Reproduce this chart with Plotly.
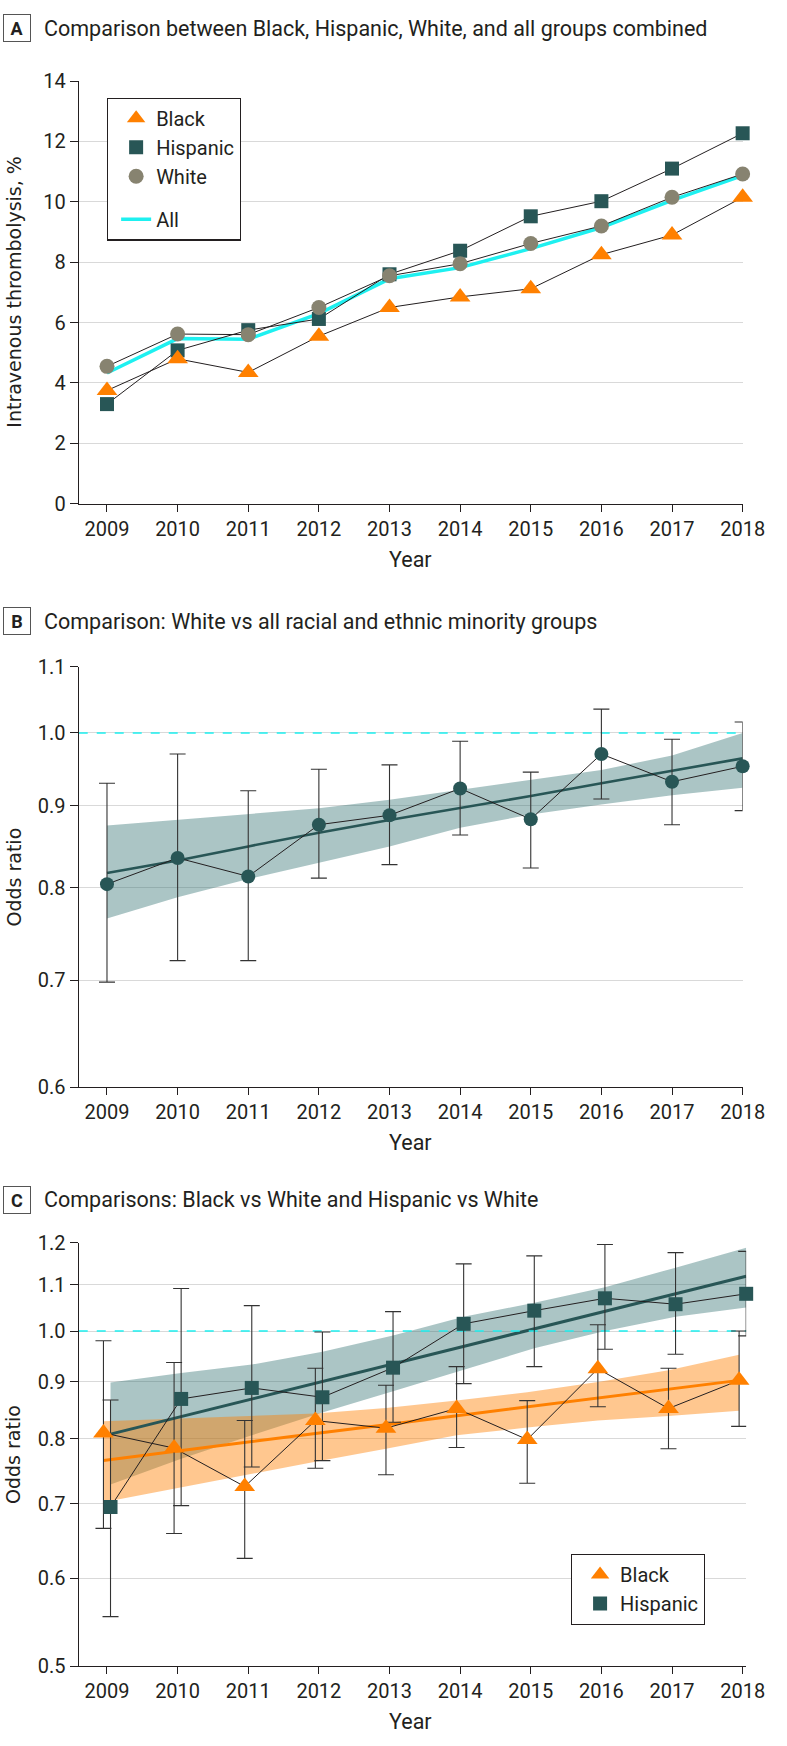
import math
import plotly.graph_objects as go

# ---------------- data ----------------
YEARS = [2009, 2010, 2011, 2012, 2013, 2014, 2015, 2016, 2017, 2018]

# Panel A: intravenous thrombolysis, %
A_BLACK = [3.75, 4.80, 4.35, 5.55, 6.50, 6.85, 7.12, 8.25, 8.90, 10.15]
A_HISPANIC = [3.30, 5.08, 5.75, 6.12, 7.60, 8.38, 9.52, 10.02, 11.10, 12.27]
A_WHITE = [4.55, 5.62, 5.60, 6.50, 7.55, 7.95, 8.62, 9.20, 10.15, 10.92]
A_ALL = [4.33, 5.47, 5.45, 6.30, 7.45, 7.82, 8.45, 9.15, 10.05, 10.87]

# Panel B: odds ratio, White vs all minority groups
B_OR = [0.804, 0.835, 0.813, 0.876, 0.888, 0.923, 0.883, 0.970, 0.932, 0.953]
B_LO = [0.698, 0.720, 0.720, 0.811, 0.827, 0.863, 0.823, 0.909, 0.876, 0.894]
B_HI = [0.930, 0.970, 0.920, 0.949, 0.955, 0.988, 0.945, 1.035, 0.991, 1.016]
B_TREND = [0.817, 0.832, 0.849, 0.866, 0.882, 0.897, 0.913, 0.930, 0.947, 0.964]
B_BAND_LO = [0.765, 0.789, 0.810, 0.829, 0.849, 0.872, 0.889, 0.902, 0.914, 0.924]
B_BAND_HI = [0.875, 0.882, 0.890, 0.897, 0.908, 0.921, 0.934, 0.948, 0.968, 1.000]

# Panel C: odds ratios, Black vs White and Hispanic vs White
C_BLACK = [0.810, 0.785, 0.725, 0.831, 0.818, 0.852, 0.799, 0.925, 0.852, 0.903]
C_BLACK_LO = [0.665, 0.658, 0.625, 0.753, 0.743, 0.786, 0.730, 0.855, 0.784, 0.821]
C_BLACK_HI = [0.980, 0.937, 0.831, 0.926, 0.894, 0.929, 0.866, 1.013, 0.926, 1.000]
C_HISP = [0.695, 0.869, 0.889, 0.872, 0.927, 1.015, 1.043, 1.070, 1.057, 1.080]
C_HISP_LO = [0.554, 0.697, 0.755, 0.765, 0.828, 0.897, 0.929, 0.963, 0.953, 0.990]
C_HISP_HI = [0.867, 1.092, 1.054, 0.998, 1.041, 1.149, 1.168, 1.196, 1.176, 1.179]
C_BLACK_TREND = [0.765, 0.779, 0.794, 0.809, 0.824, 0.839, 0.855, 0.871, 0.887, 0.903]
C_BLACK_BAND_LO = [0.702, 0.722, 0.742, 0.763, 0.784, 0.806, 0.819, 0.831, 0.839, 0.848]
C_BLACK_BAND_HI = [0.830, 0.834, 0.838, 0.843, 0.853, 0.866, 0.881, 0.900, 0.922, 0.952]
C_HISP_TREND = [0.808, 0.838, 0.869, 0.901, 0.934, 0.969, 1.005, 1.042, 1.080, 1.120]
C_HISP_BAND_LO = [0.728, 0.768, 0.806, 0.845, 0.883, 0.923, 0.965, 1.000, 1.030, 1.050]
C_HISP_BAND_HI = [0.899, 0.917, 0.933, 0.958, 0.991, 1.030, 1.060, 1.095, 1.140, 1.188]

REF_OR = 1.0
A_TICKS = [0, 2, 4, 6, 8, 10, 12, 14]
B_TICKS = [0.6, 0.7, 0.8, 0.9, 1.0, 1.1]
C_TICKS = [0.5, 0.6, 0.7, 0.8, 0.9, 1.0, 1.1, 1.2]

TITLE_A = "Comparison between Black, Hispanic, White, and all groups combined"
TITLE_B = "Comparison: White vs all racial and ethnic minority groups"
TITLE_C = "Comparisons: Black vs White and Hispanic vs White"

# ---------------- style ----------------
W, H = 787, 1746
ORANGE = "#FF8000"
TEAL = "#285656"
GRAYC = "#878370"
CYAN = "#1EF0F0"
TEAL_BAND = "rgba(45,110,110,0.40)"
ORANGE_BAND = "rgba(255,128,0,0.44)"
INK = "#231F20"
GRID = "#D9D9D9"
TICK_FONT = dict(family="Roboto", size=20, color=INK)
DODGE = 0.05

def py(px):
    return 1 - px / H

def px_x(px):
    return px / W

X_LEFT, X_RIGHT = 81, 764
XRANGE = [2008.6, 2018]
C_XRIGHT = X_RIGHT + DODGE * (X_RIGHT - X_LEFT) / (XRANGE[1] - XRANGE[0])

fig = go.Figure()

# ---------- Panel A ----------
fig.add_trace(go.Scatter(x=YEARS, y=A_ALL, mode="lines", name="All",
                         line=dict(color=CYAN, width=3.5),
                         legendgroup="g2", legendrank=4, legend="legend",
                         xaxis="x", yaxis="y"))
for vals in (A_WHITE, A_HISPANIC, A_BLACK):
    fig.add_trace(go.Scatter(x=YEARS, y=vals, mode="lines", showlegend=False,
                             line=dict(color=INK, width=1),
                             xaxis="x", yaxis="y"))
fig.add_trace(go.Scatter(x=YEARS, y=A_HISPANIC, mode="markers", name="Hispanic",
                         marker=dict(symbol="square", size=14, color=TEAL),
                         legendgroup="g1", legendrank=2, cliponaxis=False,
                         xaxis="x", yaxis="y"))
fig.add_trace(go.Scatter(x=YEARS, y=A_WHITE, mode="markers", name="White",
                         marker=dict(symbol="circle", size=15, color=GRAYC),
                         legendgroup="g1", legendrank=3, cliponaxis=False,
                         xaxis="x", yaxis="y"))
fig.add_trace(go.Scatter(x=YEARS, y=A_BLACK, mode="markers", name="Black",
                         marker=dict(symbol="triangle-up", size=18, color=ORANGE),
                         legendgroup="g1", legendrank=1, cliponaxis=False,
                         xaxis="x", yaxis="y"))

# ---------- Panel B ----------
fig.add_trace(go.Scatter(x=YEARS, y=B_BAND_LO, mode="lines", line=dict(width=0),
                         showlegend=False, hoverinfo="skip", xaxis="x2", yaxis="y2"))
fig.add_trace(go.Scatter(x=YEARS, y=B_BAND_HI, mode="lines", line=dict(width=0),
                         fill="tonexty", fillcolor=TEAL_BAND,
                         showlegend=False, hoverinfo="skip", xaxis="x2", yaxis="y2"))
fig.add_trace(go.Scatter(x=YEARS, y=B_TREND, mode="lines", showlegend=False,
                         line=dict(color=TEAL, width=2.6), xaxis="x2", yaxis="y2"))
fig.add_trace(go.Scatter(x=[XRANGE[0], XRANGE[1]], y=[REF_OR, REF_OR], mode="lines",
                         showlegend=False, line=dict(color=CYAN, width=1.6, dash="dash"),
                         xaxis="x2", yaxis="y2"))
fig.add_trace(go.Scatter(
    x=YEARS, y=B_OR, mode="lines", showlegend=False, cliponaxis=False,
    line=dict(color=INK, width=1),
    error_y=dict(type="data", symmetric=False,
                 array=[h - v for h, v in zip(B_HI, B_OR)],
                 arrayminus=[v - l for l, v in zip(B_LO, B_OR)],
                 color="#333333", thickness=1.1, width=8),
    xaxis="x2", yaxis="y2"))
fig.add_trace(go.Scatter(x=YEARS, y=B_OR, mode="markers", showlegend=False,
                         marker=dict(symbol="circle", size=14, color=TEAL),
                         cliponaxis=False, xaxis="x2", yaxis="y2"))

# ---------- Panel C ----------
xb = [y - DODGE for y in YEARS]
xh = [y + DODGE for y in YEARS]
fig.add_trace(go.Scatter(x=xh, y=C_HISP_BAND_LO, mode="lines", line=dict(width=0),
                         showlegend=False, hoverinfo="skip", xaxis="x3", yaxis="y3"))
fig.add_trace(go.Scatter(x=xh, y=C_HISP_BAND_HI, mode="lines", line=dict(width=0),
                         fill="tonexty", fillcolor=TEAL_BAND,
                         showlegend=False, hoverinfo="skip", xaxis="x3", yaxis="y3"))
fig.add_trace(go.Scatter(x=xb, y=C_BLACK_BAND_LO, mode="lines", line=dict(width=0),
                         showlegend=False, hoverinfo="skip", xaxis="x3", yaxis="y3"))
fig.add_trace(go.Scatter(x=xb, y=C_BLACK_BAND_HI, mode="lines", line=dict(width=0),
                         fill="tonexty", fillcolor=ORANGE_BAND,
                         showlegend=False, hoverinfo="skip", xaxis="x3", yaxis="y3"))
fig.add_trace(go.Scatter(x=xh, y=C_HISP_TREND, mode="lines", showlegend=False,
                         line=dict(color=TEAL, width=3), xaxis="x3", yaxis="y3"))
fig.add_trace(go.Scatter(x=xb, y=C_BLACK_TREND, mode="lines", showlegend=False,
                         line=dict(color=ORANGE, width=3), xaxis="x3", yaxis="y3"))
fig.add_trace(go.Scatter(x=[XRANGE[0], XRANGE[1] + DODGE], y=[REF_OR, REF_OR], mode="lines",
                         showlegend=False, line=dict(color=CYAN, width=1.6, dash="dash"),
                         xaxis="x3", yaxis="y3"))
for xs, vals, lo, hi in ((xb, C_BLACK, C_BLACK_LO, C_BLACK_HI),
                         (xh, C_HISP, C_HISP_LO, C_HISP_HI)):
    fig.add_trace(go.Scatter(
        x=xs, y=vals, mode="lines", showlegend=False, cliponaxis=False,
        line=dict(color=INK, width=1),
        error_y=dict(type="data", symmetric=False,
                     array=[h - v for h, v in zip(hi, vals)],
                     arrayminus=[v - l for l, v in zip(lo, vals)],
                     color="#333333", thickness=1.1, width=8),
        xaxis="x3", yaxis="y3"))
fig.add_trace(go.Scatter(x=xh, y=C_HISP, mode="markers", name="Hispanic",
                         marker=dict(symbol="square", size=14, color=TEAL),
                         legend="legend2", legendrank=2, cliponaxis=False,
                         xaxis="x3", yaxis="y3"))
fig.add_trace(go.Scatter(x=xb, y=C_BLACK, mode="markers", name="Black",
                         marker=dict(symbol="triangle-up", size=18, color=ORANGE),
                         legend="legend2", legendrank=1, cliponaxis=False,
                         xaxis="x3", yaxis="y3"))

# ---------------- axes ----------------
xcommon = dict(tickmode="array", tickvals=YEARS, ticks="outside", ticklen=7,
               tickcolor=INK, tickwidth=1.1, showline=True, linecolor=INK,
               linewidth=1.2, showgrid=False, zeroline=False, tickfont=TICK_FONT)
ycommon = dict(ticks="outside", ticklen=8, tickcolor=INK, tickwidth=1.1,
               showline=True, linecolor=INK, linewidth=1.2, showgrid=True,
               gridcolor=GRID, gridwidth=1.4, zeroline=False, tickfont=TICK_FONT)

fig.update_layout(
    xaxis=dict(domain=[px_x(X_LEFT), px_x(X_RIGHT)], range=XRANGE, anchor="y", **xcommon),
    yaxis=dict(domain=[py(498.6), py(70)], range=[0, 14], tickvals=A_TICKS,
               anchor="x", **ycommon),
    xaxis2=dict(domain=[px_x(X_LEFT), px_x(X_RIGHT)], range=XRANGE, anchor="y2", **xcommon),
    yaxis2=dict(domain=[py(1090), py(664)], type="log",
                range=[math.log10(B_TICKS[0]), math.log10(B_TICKS[-1])],
                tickvals=B_TICKS, ticktext=[f"{t:.1f}" for t in B_TICKS],
                anchor="x2", **ycommon),
    xaxis3=dict(domain=[px_x(X_LEFT), px_x(C_XRIGHT)], range=[XRANGE[0], XRANGE[1] + DODGE],
                anchor="y3", **xcommon),
    yaxis3=dict(domain=[py(1677.3), py(1248)], type="log",
                range=[math.log10(C_TICKS[0]), math.log10(C_TICKS[-1])],
                tickvals=C_TICKS, ticktext=[f"{t:.1f}" for t in C_TICKS],
                anchor="x3", **ycommon),
)

# ---------------- legends ----------------
legend_common = dict(xanchor="left", yanchor="top", bgcolor="white",
                     bordercolor=INK, borderwidth=1.2, indentation=8,
                     font=dict(family="Roboto", size=20, color=INK))
fig.update_layout(
    legend=dict(x=px_x(110), y=py(86.7), traceorder="grouped", tracegroupgap=14,
                **legend_common),
    legend2=dict(x=px_x(587.3), y=py(1563.3), traceorder="normal", **legend_common),
)

# ---------------- annotations ----------------
ann = []
for letter, ycen, title in (("A", 16.3, TITLE_A), ("B", 617.5, TITLE_B), ("C", 1204.5, TITLE_C)):
    ann.append(dict(text=f"<b>{letter}</b>", x=px_x(17), y=py(ycen), xref="paper", yref="paper",
                    xanchor="center", yanchor="middle", showarrow=False,
                    width=26, height=26, borderpad=0, bordercolor="#555555", borderwidth=1,
                    font=dict(family="Roboto", size=18, color=INK)))
    ann.append(dict(text=title, x=px_x(43), y=py(ycen), xref="paper", yref="paper",
                    xanchor="left", yanchor="middle", showarrow=False,
                    font=dict(family="Roboto", size=21.5, color=INK)))
for ycen in (555, 1146.7, 1733):
    ann.append(dict(text="Year", x=px_x((X_LEFT + X_RIGHT) / 2), y=py(ycen),
                    xref="paper", yref="paper", xanchor="center", yanchor="middle",
                    showarrow=False, font=dict(family="Roboto", size=21.5, color=INK)))
for ycen, txt in ((284, "Intravenous thrombolysis, %"), (877, "Odds ratio"), (1462.5, "Odds ratio")):
    ann.append(dict(text=txt, x=px_x(14), y=py(ycen), xref="paper", yref="paper",
                    xanchor="center", yanchor="middle", textangle=-90, showarrow=False,
                    font=dict(family="DejaVu Sans", size=19, color=INK)))

fig.update_layout(
    annotations=ann,
    width=W, height=H,
    margin=dict(l=0, r=0, t=0, b=0),
    paper_bgcolor="white", plot_bgcolor="white",
    showlegend=True,
)

fig.write_html(
    "out.html",
    config={"displayModeBar": False},
    post_script=(
        "document.documentElement.style.margin='0';"
        "document.body.style.margin='0';"
        "document.body.style.padding='0';"
        "document.body.style.overflow='hidden';"
    ),
)
